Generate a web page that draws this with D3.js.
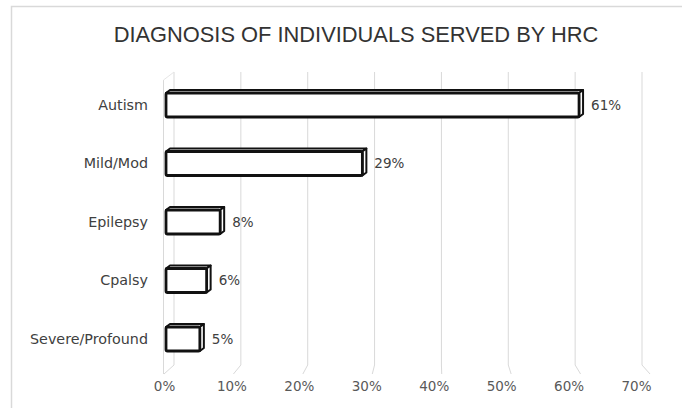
<!DOCTYPE html>
<html>
<head>
<meta charset="utf-8">
<script src="https://cdn.jsdelivr.net/npm/d3@7/dist/d3.min.js"></script>
<style>
  html, body { margin: 0; padding: 0; background: #fff; }
  svg { display: block; font-family: "Liberation Sans", Arial, sans-serif; }
</style>
</head>
<body>
<svg id="chart" width="682" height="408"></svg>
<script>
const categories = ["Autism", "Mild/Mod", "Epilepsy", "Cpalsy", "Severe/Profound"];
const values = [0.61, 0.29, 0.08, 0.06, 0.05];
const tickValues = [0, 0.1, 0.2, 0.3, 0.4, 0.5, 0.6, 0.7];
const title = "DIAGNOSIS OF INDIVIDUALS SERVED BY HRC";

const svg = d3.select("#chart");
const smallFont = "DejaVu Sans, Verdana, sans-serif";

// chart border
svg.append("rect")
  .attr("x", 11.5).attr("y", 6.5)
  .attr("width", 700).attr("height", 420)
  .attr("fill", "#fff").attr("stroke", "#d9d9d9").attr("stroke-width", 1.5);

// title
const t = svg.append("text")
  .attr("x", 356).attr("y", 42)
  .attr("text-anchor", "middle")
  .attr("fill", "#333")
  .attr("font-size", 19)
  .text(title);
const tl = t.node().getComputedTextLength();
t.attr("font-size", 19 * 485 / tl);

// scales
const x = d3.scaleLinear().domain([0, 0.7]).range([164, 636]);     // tick label positions
const xBar = d3.scaleLinear().domain([0, 0.7]).range([166, 640]);  // bar front face
const xBack = d3.scaleLinear().domain([0, 0.7]).range([174, 642]); // back wall
const xFloor = d3.scaleLinear().domain([0, 0.7]).range([164, 650]);// floor front edge
const y = d3.scaleBand().domain(categories).range([75.75, 368.25]).padding(0);

const backTop = 72, backBottom = 365, floorFront = 374;

// back wall gridlines
const grid = svg.append("g");
grid.selectAll("line.g")
  .data(tickValues).join("line")
  .attr("class", "g")
  .attr("x1", d => xBack(d)).attr("x2", d => xBack(d))
  .attr("y1", backTop).attr("y2", backBottom)
  .attr("stroke", "#d9d9d9").attr("stroke-width", 1);
// floor lines
grid.selectAll("line.f")
  .data(tickValues).join("line")
  .attr("class", "f")
  .attr("x1", d => xBack(d)).attr("x2", d => xFloor(d))
  .attr("y1", backBottom).attr("y2", floorFront)
  .attr("stroke", "#d9d9d9").attr("stroke-width", 1);
// side wall front edge
grid.append("line")
  .attr("x1", 163.5).attr("x2", 163.5)
  .attr("y1", backTop + 8).attr("y2", floorFront)
  .attr("stroke", "#d9d9d9").attr("stroke-width", 1);
grid.append("line")
  .attr("x1", 163.5).attr("x2", xBack(0))
  .attr("y1", backTop + 8).attr("y2", backTop)
  .attr("stroke", "#e6e6e6").attr("stroke-width", 1);

// x tick labels
const xAxis = d3.axisBottom(x).tickValues(tickValues).tickFormat(d3.format(".0%")).tickSize(0).tickPadding(0);
const gx = svg.append("g").attr("transform", "translate(0,381)").call(xAxis);
gx.select(".domain").remove();
gx.selectAll("text")
  .attr("font-family", smallFont)
  .attr("font-size", 13.5).attr("fill", "#595959")
  .attr("dy", "0.71em");

// y category labels
const yAxis = d3.axisLeft(y).tickSize(0).tickPadding(0);
const gy = svg.append("g").attr("transform", "translate(148,0)").call(yAxis);
gy.select(".domain").remove();
gy.selectAll("text")
  .attr("font-family", smallFont)
  .attr("font-size", 14.3).attr("fill", "#404040");

// 3D bars
const dx = 4, dy = -3;
const barH = 24;
const data = categories.map((c, i) => ({ c, v: values[i] }));
const bars = svg.append("g");
const bg = bars.selectAll("g.bar").data(data).join("g").attr("class", "bar");

bg.each(function(d) {
  const g = d3.select(this);
  const x0 = xBar(0), x1 = xBar(d.v);
  const yc = y(d.c) + y.bandwidth() / 2;
  const y0 = yc - barH / 2, y1 = yc + barH / 2;
  // top face
  g.append("path")
    .attr("d", `M${x0},${y0} L${x0 + dx},${y0 + dy} L${x1 + dx},${y0 + dy} L${x1},${y0} Z`)
    .attr("fill", "#fff").attr("stroke", "#111").attr("stroke-width", 2).attr("stroke-linejoin", "round");
  // side face
  g.append("path")
    .attr("d", `M${x1},${y0} L${x1 + dx},${y0 + dy} L${x1 + dx},${y1 + dy} L${x1},${y1} Z`)
    .attr("fill", "#fff").attr("stroke", "#111").attr("stroke-width", 2).attr("stroke-linejoin", "round");
  // front face
  g.append("rect")
    .attr("x", x0).attr("y", y0)
    .attr("width", x1 - x0).attr("height", barH)
    .attr("rx", 1.5)
    .attr("fill", "#fff").attr("stroke", "#111").attr("stroke-width", 2.8);
  // value label
  g.append("text")
    .attr("x", x1 + dx + 8).attr("y", yc)
    .attr("dy", "0.35em")
    .attr("font-family", smallFont)
    .attr("font-size", 13.5).attr("fill", "#404040")
    .text(d3.format(".0%")(d.v));
});
</script>
</body>
</html>
